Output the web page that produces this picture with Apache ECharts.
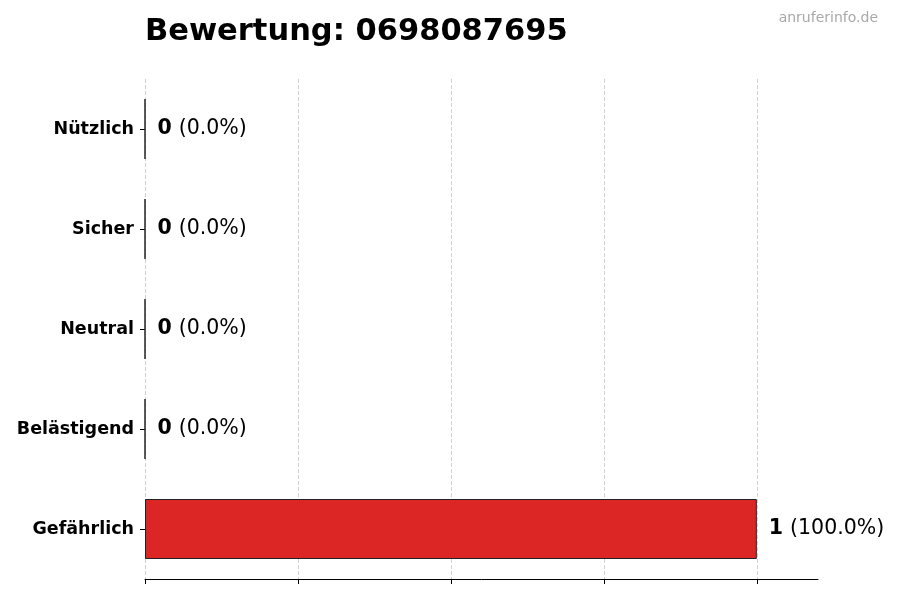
<!DOCTYPE html>
<html>
<head>
<meta charset="utf-8">
<script src="https://cdn.jsdelivr.net/npm/echarts@6/dist/echarts.min.js"></script>
<style>
  html, body { margin: 0; padding: 0; background: #fff; }
  #main { width: 900px; height: 600px; }
</style>
</head>
<body>
<div id="main"></div>
<script>
// Kategorien von unten nach oben
var categories = ['Gefährlich', 'Belästigend', 'Neutral', 'Sicher', 'Nützlich'];
var counts = [1, 0, 0, 0, 0];
var percents = [100.0, 0.0, 0.0, 0.0, 0.0];
var xTicks = [0, 0.25, 0.5, 0.75, 1];

var chart = echarts.init(document.getElementById('main'));

var option = {
    backgroundColor: '#fff',
    animation: false,
    title: [{
        text: 'Bewertung: 0698087695',
        left: 140,
        top: 12,
        textStyle: {
            fontFamily: 'DejaVu Sans',
            fontSize: 30.5,
            fontWeight: 'bold',
            color: '#000'
        }
    }, {
        text: 'anruferinfo.de',
        right: 17,
        top: 6,
        textStyle: {
            fontFamily: 'DejaVu Sans',
            fontSize: 14,
            fontWeight: 'normal',
            color: '#a8a8a8'
        }
    }],
    grid: {
        left: 145,
        right: 82,
        top: 79,
        bottom: 21,
        containLabel: false
    },
    xAxis: {
        type: 'value',
        min: 0,
        max: 1.1,
        interval: 0.25,
        axisLine: { show: true, lineStyle: { color: '#000', width: 1 } },
        axisTick: {
            show: true,
            length: 5,
            customValues: xTicks,
            lineStyle: { color: '#000' }
        },
        axisLabel: { show: false },
        splitLine: {
            show: true,
            lineStyle: { color: '#d0d0d0', type: 'dashed', width: 1 }
        }
    },
    yAxis: {
        type: 'category',
        data: categories,
        axisLine: { show: false },
        axisTick: {
            show: true,
            alignWithLabel: true,
            length: 5,
            lineStyle: { color: '#000' }
        },
        axisLabel: {
            margin: 11,
            fontFamily: 'DejaVu Sans',
            fontSize: 17.5,
            fontWeight: 'bold',
            color: '#000'
        }
    },
    series: [{
        type: 'bar',
        data: counts,
        barWidth: '60%',
        itemStyle: {
            color: '#dc2626',
            borderColor: '#222',
            borderWidth: 1
        },
        label: {
            show: true,
            position: 'right',
            distance: 12,
            formatter: function(p) {
                return '{b|' + counts[p.dataIndex] + '}{n|(' + percents[p.dataIndex].toFixed(1) + '%)}';
            },
            rich: {
                b: { fontFamily: 'DejaVu Sans', fontSize: 20.5, fontWeight: 'bold', color: '#000', padding: [0, 7, 0, 0] },
                n: { fontFamily: 'DejaVu Sans', fontSize: 20.5, color: '#000' }
            }
        }
    }]
};

chart.setOption(option);
</script>
</body>
</html>
